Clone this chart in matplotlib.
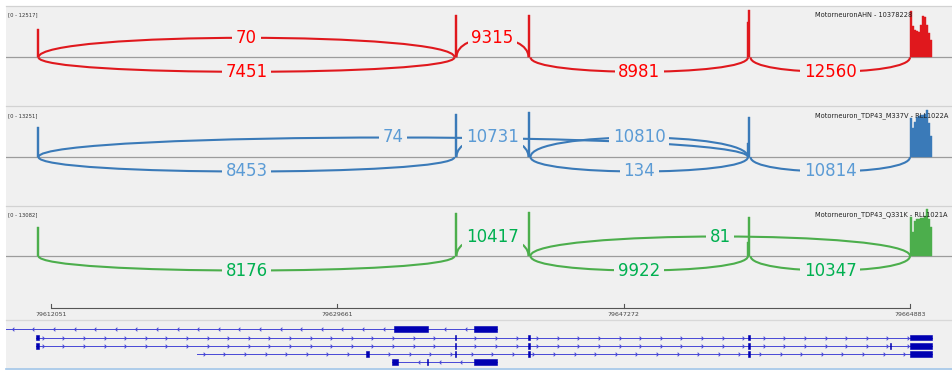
import numpy as np
import matplotlib
matplotlib.use("Agg")
import matplotlib.pyplot as plt
from matplotlib.path import Path
from matplotlib.patches import PathPatch, Rectangle

# ---------------------------------------------------------------- data ----
VIEW = (79609283, 79667528)
RULER_TICKS = [79612051, 79629661, 79647272, 79664883]

# coverage segments (start, end) shared by the three samples
COV_START = [79611159, 79636868, 79641419, 79654858, 79654950,
             79664883, 79665006, 79665129, 79665252, 79665375, 79665498,
             79665621, 79665744, 79665867, 79665990, 79666113]
COV_END = [79611282, 79636991, 79641542, 79654950, 79655073,
           79665006, 79665129, 79665252, 79665375, 79665498, 79665621,
           79665744, 79665867, 79665990, 79666113, 79666236]

COV_AHN = [7460, 11250, 11250, 9400, 12517,
           12400, 8400, 7400, 7100, 6800, 8500, 11000, 10800, 8600, 6500, 4500]
COV_M337V = [8450, 12100, 12800, 4000, 11300,
             10900, 8200, 10000, 11300, 11500, 11800, 11900, 12200, 13251, 9500, 6000]
COV_Q331K = [8200, 11950, 12250, 4000, 10900,
              10900, 6800, 9800, 10300, 10400, 10600, 10500, 11200, 13082, 10200, 8000]

# splice junctions: donor end -> acceptor start
JUNCTIONS = {
    "e1-e2": (79611282, 79636868),
    "e2-e3": (79636991, 79641419),
    "e3-e4": (79641542, 79654919),
    "e4-e5": (79655073, 79664883),
    "e1-e4": (79611282, 79654919),
    "e3-e5": (79641542, 79664883),
}

JUNC_AHN = ["e1-e2", "e1-e2", "e2-e3", "e3-e4", "e4-e5"]
READS_AHN = [70, 7451, 9315, 8981, 12560]
SIDE_AHN = [1, -1, 1, -1, -1]

JUNC_M337V = ["e1-e4", "e1-e2", "e2-e3", "e3-e4", "e3-e4", "e4-e5"]
READS_M337V = [74, 8453, 10731, 10810, 134, 10814]
SIDE_M337V = [1, -1, 1, 1, -1, -1]

JUNC_Q331K = ["e1-e2", "e2-e3", "e3-e5", "e3-e4", "e4-e5"]
READS_Q331K = [8176, 10417, 81, 9922, 10347]
SIDE_Q331K = [-1, 1, 1, -1, -1]

SAMPLES = ["MotorneuronAHN - 10378228",
           "Motorneuron_TDP43_M337V - RLL1022A",
           "Motorneuron_TDP43_Q331K - RLL1021A"]
RANGES = [12517, 13251, 13082]

# transcript models: strand, span, exons
TX_STRAND = ["-", "+", "+", "+", "-"]
TX_SPAN = [(79600000, 79639482), (79611128, 79666236), (79611128, 79666236),
           (79621031, 79666236), (79633024, 79639482)]
TX_EXONS = [
    [(79633147, 79635238), (79638067, 79639482)],
    [(79611128, 79611313), (79636899, 79636960), (79641419, 79641542),
     (79654919, 79655073), (79664883, 79666236)],
    [(79611128, 79611313), (79636899, 79636960), (79641419, 79641542),
     (79654919, 79655073), (79663653, 79663714), (79664883, 79666236)],
    [(79631425, 79631609), (79636899, 79636960), (79641419, 79641542),
     (79654919, 79655073), (79664883, 79666236)],
    [(79633024, 79633393), (79635177, 79635238), (79638067, 79639482)],
]

# --------------------------------------------------------------- style ----
W, H = 953, 370
BG = "#f0f0f0"
LINE_COLORS = ["#e0181d", "#3a7ab8", "#4cae4c"]
LABEL_COLORS = ["#ff0000", "#5b9bd5", "#00b050"]
PANEL_BOX = [(5.5, 106.0, 57.3), (106.0, 205.5, 157.0), (205.5, 303.0, 256.0)]
DATA_PX = 47.0        # pixels covered by the full data range
ARC_UP_PX = 19.5      # apex of junction arcs above the axis
ARC_DOWN_PX = 14.5    # apex of junction arcs below the axis

fig = plt.figure(figsize=(W / 100, H / 100), dpi=100)
fig.patch.set_facecolor("white")


def rect(x0, top, x1, bottom):
    return [x0 / W, (H - bottom) / H, (x1 - x0) / W, (bottom - top) / H]


def plain(ax, top_color=None):
    ax.set_xticks([])
    ax.set_yticks([])
    for name, sp in ax.spines.items():
        if name == "top" and top_color:
            sp.set_color(top_color)
            sp.set_linewidth(0.9)
        else:
            sp.set_visible(False)


coverages = [COV_AHN, COV_M337V, COV_Q331K]
junctions = [(JUNC_AHN, READS_AHN, SIDE_AHN),
             (JUNC_M337V, READS_M337V, SIDE_M337V),
             (JUNC_Q331K, READS_Q331K, SIDE_Q331K)]

starts = np.array(COV_START)
widths = np.array(COV_END) - starts

for i, (top, bottom, base) in enumerate(PANEL_BOX):
    ax = fig.add_axes(rect(6, top, W, bottom))
    rng = RANGES[i]
    u = rng / DATA_PX
    ax.set_xlim(VIEW)
    ax.set_ylim(-(bottom - base) * u, (base - top) * u)
    ax.set_facecolor(BG)
    plain(ax, "#d2d2d2")

    lc = LINE_COLORS[i]
    ax.bar(starts, coverages[i], width=widths, align="edge", color=lc,
           linewidth=0.3, edgecolor=lc, zorder=2)
    ax.axhline(0, color="#9c9c9c", lw=0.9, zorder=1)

    names, reads, sides = junctions[i]
    for name, n, s in zip(names, reads, sides):
        x0, x1 = JUNCTIONS[name]
        apex = (ARC_UP_PX if s > 0 else ARC_DOWN_PX) * u * s
        h = apex / 0.75
        path = Path([(x0, 0), (x0, h), (x1, h), (x1, 0)],
                    [Path.MOVETO, Path.CURVE4, Path.CURVE4, Path.CURVE4])
        ax.add_patch(PathPatch(path, fc="none", ec=lc, lw=1.5, zorder=3))
        ax.text((x0 + x1) / 2, apex, str(n), color=LABEL_COLORS[i],
                fontsize=12, ha="center", va="center", zorder=5,
                bbox=dict(boxstyle="square,pad=0.22", fc=BG, ec="none"))

    fig.text(8 / W, 1 - (top + 9.5) / H, f"[0 - {rng}]", fontsize=3.8,
             color="#333333", va="center", ha="left")
    fig.text(815 / W, 1 - (top + 9.5) / H, SAMPLES[i], fontsize=4.8,
             color="#222222", va="center", ha="left")

# ------------------------------------------------------------- ruler ----
axr = fig.add_axes(rect(6, 303, W, 320))
axr.set_xlim(VIEW)
axr.set_ylim(320, 303)
axr.set_facecolor(BG)
plain(axr)
axr.plot([RULER_TICKS[0], RULER_TICKS[-1]], [308.3, 308.3], color="#555555",
         lw=0.8, solid_capstyle="butt")
for t in RULER_TICKS:
    axr.plot([t, t], [304.3, 308.3], color="#555555", lw=0.8)
    axr.text(t, 315, str(t), fontsize=4.5, color="#444444",
             ha="center", va="center")

# ------------------------------------------------------------- genes ----
axg = fig.add_axes(rect(6, 320, W, 368))
axg.set_xlim(VIEW)
axg.set_ylim(368, 320)
axg.set_facecolor(BG)
plain(axg, "#d8d8d8")

ROW_Y = [329, 337.5, 346, 354, 362]
EXON_H = 5.5
INTRON_C = "#4747d6"
EXON_C = "#0000b2"
chev_r = Path([(-0.5, 1), (0.5, 0), (-0.5, -1)],
              [Path.MOVETO, Path.LINETO, Path.LINETO])
chev_l = Path([(0.5, 1), (-0.5, 0), (0.5, -1)],
              [Path.MOVETO, Path.LINETO, Path.LINETO])

for y, strand, (s0, s1), exons in zip(ROW_Y, TX_STRAND, TX_SPAN, TX_EXONS):
    axg.plot([s0, s1], [y, y], color=INTRON_C, lw=0.7, zorder=2)
    pos = np.arange(max(s0, VIEW[0]) + 420, s1, 1267)
    keep = [p for p in pos
            if not any(a - 90 <= p <= b + 90 for a, b in exons)]
    axg.plot(keep, [y] * len(keep), ls="none",
             marker=chev_r if strand == "+" else chev_l, markersize=2.6,
             markerfacecolor="none", markeredgecolor=INTRON_C,
             markeredgewidth=0.7, zorder=3)
    for a, b in exons:
        axg.add_patch(Rectangle((a, y - EXON_H / 2), b - a, EXON_H,
                                facecolor=EXON_C, edgecolor=EXON_C,
                                linewidth=0.4, zorder=4))

fig.add_artist(plt.Line2D([6 / W, 1], [1 - 368.8 / H, 1 - 368.8 / H],
                          color="#9fc4e6", lw=1.2))

fig.savefig("out.png", dpi=100, facecolor="white")
